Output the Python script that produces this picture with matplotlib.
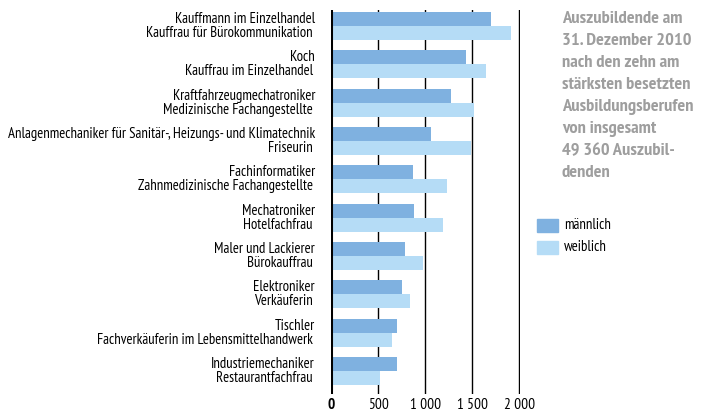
import matplotlib.pyplot as plt
from matplotlib.patches import Rectangle

plt.rcParams["font.family"] = ["PT Sans Narrow", "DejaVu Sans"]

# labels per group: (male occupation, female occupation)
male_labels = [
    "Kauffmann im Einzelhandel",
    "Koch",
    "Kraftfahrzeugmechatroniker",
    "Anlagenmechaniker für Sanitär-, Heizungs- und Klimatechnik",
    "Fachinformatiker",
    "Mechatroniker",
    "Maler und Lackierer",
    "Elektroniker",
    "Tischler",
    "Industriemechaniker",
]
female_labels = [
    "Kauffrau für Bürokommunikation",
    "Kauffrau im Einzelhandel",
    "Medizinische Fachangestellte",
    "Friseurin",
    "Zahnmedizinische Fachangestellte",
    "Hotelfachfrau",
    "Bürokauffrau",
    "Verkäuferin",
    "Fachverkäuferin im Lebensmittelhandwerk",
    "Restaurantfachfrau",
]
male_values = [1700, 1433, 1273, 1060, 869, 880, 784, 752, 699, 699]
female_values = [1912, 1646, 1518, 1486, 1230, 1188, 975, 837, 645, 517]

xticks = [0, 500, 1000, 1500, 2000]
xtick_labels = ["0", "500", "1 000", "1 500", "2 000"]

title_lines = [
    "Auszubildende am",
    "31. Dezember 2010",
    "nach den zehn am",
    "stärksten besetzten",
    "Ausbildungsberufen",
    "von insgesamt",
    "49 360 Auszubil-",
    "denden",
]

c_male = "#7fb1e0"
c_female = "#b5dcf6"

W, H = 707, 412
fig = plt.figure(figsize=(W / 100, H / 100), dpi=100)
left = 331.3 / W
width = 189.0 / W
bottom = 1 - 394 / H
top = 1 - 10 / H
ax = fig.add_axes([left, bottom, width, top - bottom])

n = len(male_values)
pos = list(range(n))
bh = 0.365
ax.barh([p - bh / 2 for p in pos], male_values, height=bh, color=c_male, zorder=2)
ax.barh([p + bh / 2 for p in pos], female_values, height=bh, color=c_female, zorder=2)

ax.set_xlim(0, 2010)
ax.set_ylim(9.6, -0.418)
for x in xticks[1:]:
    ax.axvline(x, color="black", lw=1, zorder=1)
ax.axvline(0, color="black", lw=2.2, zorder=3)

for s in ax.spines.values():
    s.set_visible(False)
ax.set_yticks([])
ax.set_xticks(xticks)
ax.set_xticklabels(xtick_labels, fontsize=11)
ax.get_xticklabels()[0].set_fontweight("bold")
ax.tick_params(axis="x", length=0, pad=3)

for p, ml, fl in zip(pos, male_labels, female_labels):
    ax.text(-173, p - bh / 2, ml, ha="right", va="center", fontsize=10.6)
    ax.text(-195, p + bh / 2, fl, ha="right", va="center", fontsize=10.6)

# title text on the right
for i, line in enumerate(title_lines):
    fig.text(562 / W, 1 - (19 + 22 * i) / H, line, ha="left", va="center",
             fontsize=13.2, fontweight="bold", color="#9e9e9e")

# legend
for yc, col, lab in [(225, c_male, "männlich"), (247, c_female, "weiblich")]:
    fig.patches.append(Rectangle((537 / W, 1 - (yc + 6.5) / H), 21 / W, 13 / H,
                                 transform=fig.transFigure, color=col))
    fig.text(564 / W, 1 - yc / H, lab, ha="left", va="center", fontsize=10.6)

fig.savefig("out.png", dpi=100)
